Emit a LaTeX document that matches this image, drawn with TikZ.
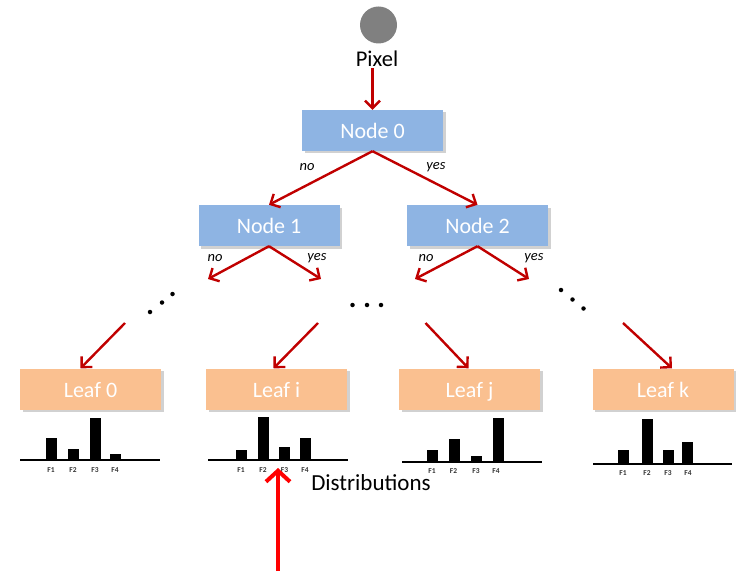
\documentclass[tikz,border=0pt]{standalone}
\usepackage{fontspec}
\setmainfont{Carlito}
\usetikzlibrary{arrows.meta,shadows}
\definecolor{nodeblue}{HTML}{8EB4E3}
\definecolor{leafpeach}{HTML}{FAC090}
\definecolor{edgered}{HTML}{C00000}
\begin{document}
\begin{tikzpicture}[x=1pt,y=-1pt,
  box/.style={minimum width=141pt,minimum height=41pt,inner sep=0pt,text=white,
    text height=18pt,text depth=2pt,
    font=\fontsize{22}{24}\selectfont,
    drop shadow={shadow xshift=2.5pt,shadow yshift=-2.5pt,opacity=0.3,fill=black!60}},
  treenode/.style={box,fill=nodeblue},
  leafnode/.style={box,fill=leafpeach},
  edge/.style={draw=edgered,line width=2.4pt,-{Straight Barb[length=7.5pt,width=15pt]}},
  branch/.style={font=\fontsize{14.5}{16}\itshape},
  dot/.style={circle,fill=black,inner sep=0pt,minimum size=4.5pt},
  flabel/.style={font=\fontsize{7.5}{8}\selectfont\bfseries,text=black!80},
  baseline/.style={line width=2.6pt}]
\path[use as bounding box] (0,0) rectangle (741,572);

% input pixel
\node[circle,fill=black!50,minimum size=37pt,inner sep=0pt] (pix) at (378.5,25) {};
\node[font=\fontsize{22.5}{24}\selectfont,inner sep=1pt] (pixlab) at (377,59) {Pixel};

% split nodes
\node[treenode] (n0) at (372.5,130.5) {Node 0};
\node[treenode] (n1) at (269,225.5) {Node 1};
\node[treenode] (n2) at (477.5,225.5) {Node 2};

% leaves
\node[leafnode] (l0) at (90.5,389) {Leaf 0};
\node[leafnode] (li) at (276.5,389) {Leaf i};
\node[leafnode] (lj) at (469.5,389) {Leaf j};
\node[leafnode] (lk) at (663,389) {Leaf k};

\draw[edge] (pixlab.south -| n0.north) -- (n0.north);
\draw[edge] (n0.south) -- (n1.north);
\draw[edge] (n0.south) -- (n2.north);
\node[branch] (no0) at (307,167) {no};
\node[branch] (yes0) at (436,167) {yes};

% open branches below Node 1 and Node 2
\coordinate (a1) at (208,279);
\coordinate (a2) at (321,279);
\coordinate (a3) at (415,279);
\coordinate (a4) at (529,279);
\draw[edge] (n1.south) -- (a1);
\draw[edge] (n1.south) -- (a2);
\draw[edge] (n2.south) -- (a3);
\draw[edge] (n2.south) -- (a4);
\node[branch] (no1) at (215,258) {no};
\node[branch] (yes1) at (317,258) {yes};
\node[branch] (no2) at (426,258) {no};
\node[branch] (yes2) at (534,258) {yes};

% elided levels
\node[dot] (d1) at (150,312) {};
\node[dot] (d2) at (162,302.5) {};
\node[dot] (d3) at (172.5,294) {};
\node[dot] (d4) at (352.5,305) {};
\node[dot] (d5) at (367,305) {};
\node[dot] (d6) at (381,305) {};
\node[dot] (d7) at (561,290) {};
\node[dot] (d8) at (572.5,299.5) {};
\node[dot] (d9) at (583.5,308.5) {};

% edges into the leaves
\coordinate (b0) at (125,323);
\coordinate (bi) at (318,323);
\coordinate (bj) at (425.5,323);
\coordinate (bk) at (623,323);
\draw[edge] (b0) -- ([xshift=-10pt]l0.north);
\draw[edge] (bi) -- ([xshift=-3pt]li.north);
\draw[edge] (bj) -- ([xshift=-1pt]lj.north);
\draw[edge] (bk) -- ([xshift=9pt]lk.north);

% leaf distributions: baseline, bars (left edge / top), labels
% Leaf 0
\foreach \x/\t in {46/438,68/449,90/418,110/454} \fill (\x,460) rectangle (\x+11,\t);
\draw[baseline] (20,460) -- (160,460);
\foreach \x/\n in {51/1,73/2,95/3,115/4} \node[flabel] at (\x,470.5) {F\n};
% Leaf i
\foreach \x/\t in {235.5/450,258/417,279/447,300/438} \fill (\x,460) rectangle (\x+11,\t);
\draw[baseline] (208,460) -- (348,460);
\foreach \x/\n in {241/1,263/2,284.5/3,305/4} \node[flabel] at (\x,470.5) {F\n};
% Leaf j
\foreach \x/\t in {427/450,449/439,471/456,493/418} \fill (\x,462) rectangle (\x+11,\t);
\draw[baseline] (402,462) -- (542,462);
\foreach \x/\n in {432/1,453.5/2,476/3,496/4} \node[flabel] at (\x,471.5) {F\n};
% Leaf k
\foreach \x/\t in {618/450,642/419,663/450,682/442} \fill (\x,464) rectangle (\x+11,\t);
\draw[baseline] (593,464) -- (732,464);
\foreach \x/\n in {623/1,647/2,668/3,688/4} \node[flabel] at (\x,473.5) {F\n};

\node[font=\fontsize{23}{25}\selectfont] (dist) at (371,483) {Distributions};

% pointer to the leaf distribution
\coordinate (pfoot) at (278,571);
\coordinate (phead) at (278,468);
\draw[red,line width=4pt,-{Straight Barb[length=11pt,width=24pt]}] (pfoot) -- (phead);
\end{tikzpicture}
\end{document}
